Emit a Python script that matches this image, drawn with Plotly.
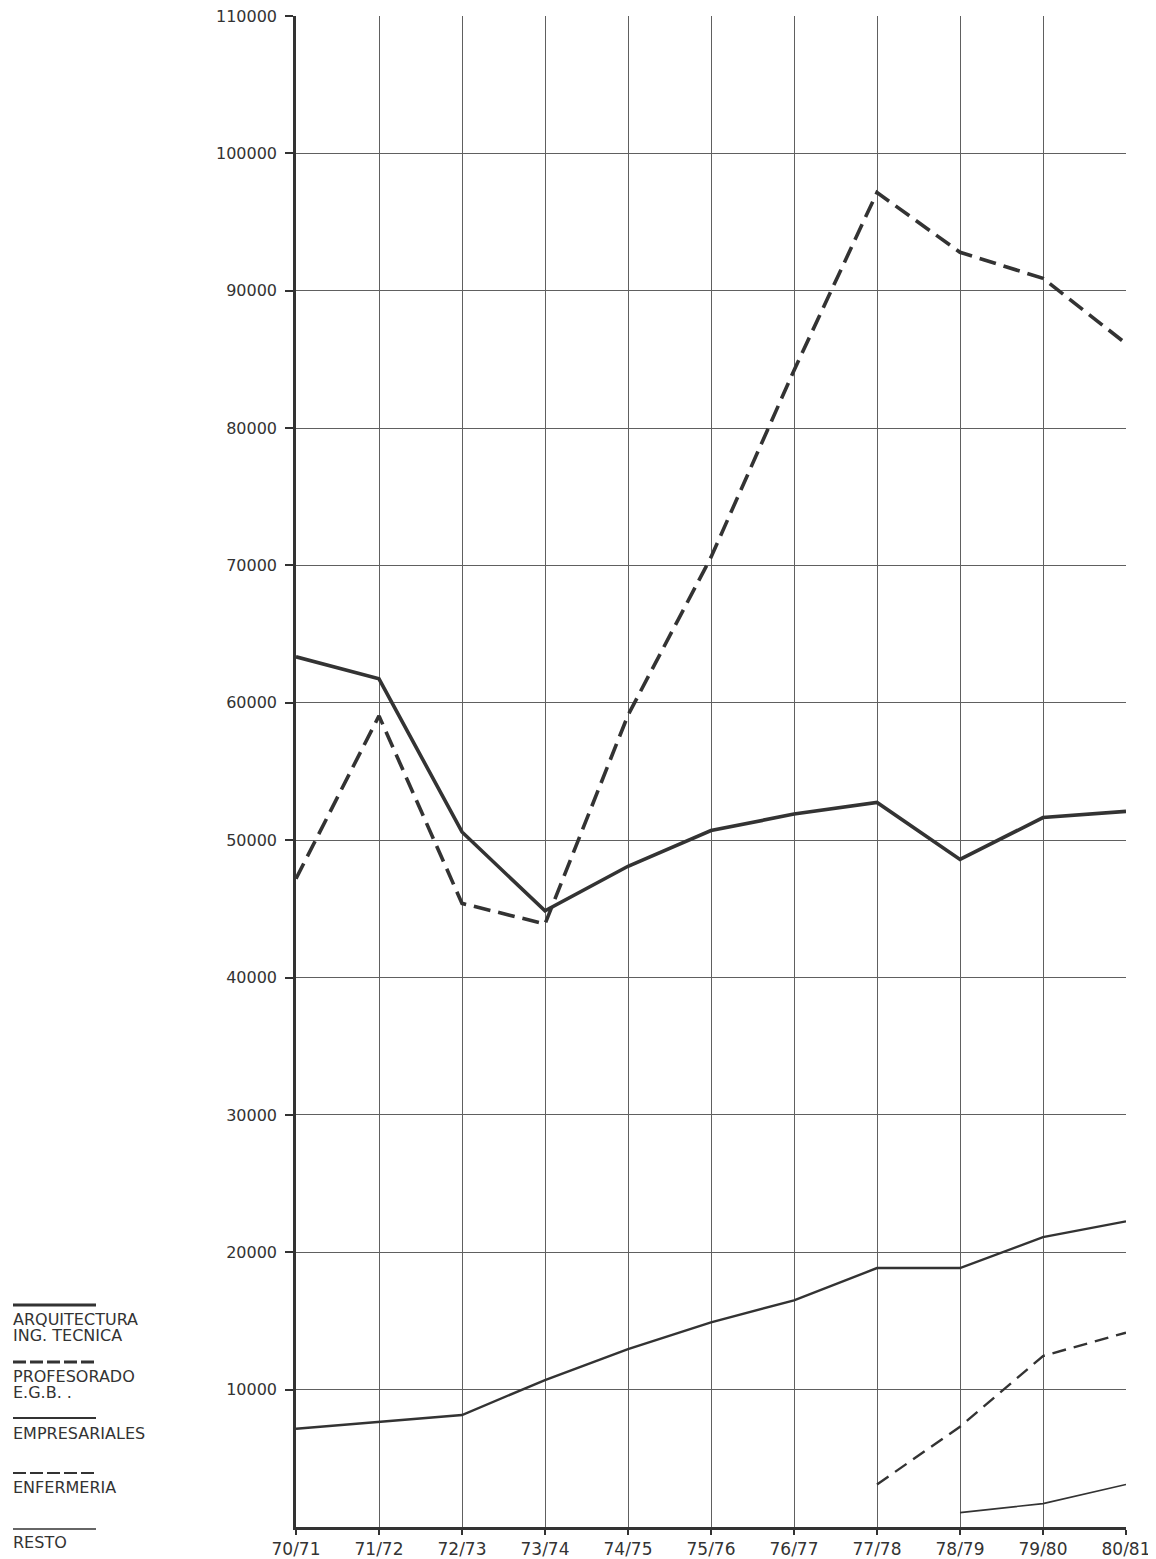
import plotly.graph_objects as go

# ---------------- data ----------------
courses = ["70/71", "71/72", "72/73", "73/74", "74/75", "75/76",
           "76/77", "77/78", "78/79", "79/80", "80/81"]

arquitectura = [63350, 61750, 50600, 44850, 48100, 50700, 51900, 52750, 48600, 51650, 52100]
profesorado = [47200, 59050, 45400, 43900, 59100, 70600, 84200, 97150, 92800, 90900, 86150]
empresariales = [7150, 7650, 8150, 10700, 12950, 14900, 16500, 18850, 18850, 21100, 22250]
enfermeria_courses = ["77/78", "78/79", "79/80", "80/81"]
enfermeria = [3100, 7300, 12450, 14150]
resto_courses = ["78/79", "79/80", "80/81"]
resto = [1050, 1700, 3100]

y_ticks = [10000, 20000, 30000, 40000, 50000, 60000, 70000, 80000, 90000, 100000, 110000]

legend_items = [
    ("ARQUITECTURA<br>ING. TECNICA", "solid", 3.0),
    ("PROFESORADO<br>E.G.B. .", "dash", 3.0),
    ("EMPRESARIALES", "solid", 2.0),
    ("ENFERMERIA", "dash", 2.0),
    ("RESTO", "solid", 1.6),
]

# ---------------- layout constants ----------------
OFF = 8                      # page body margin
W, H = 1156 - OFF, 1559 - OFF
# target plot box in screen pixels: x 296..1126, y 16..1527
L = 296 - OFF
T = 16 - OFF
R = W - (1126 - OFF)
B = H - (1527 - OFF)
PW, PH = W - L - R, H - T - B
INK = "#333333"
FONT = "DejaVu Sans"


def px_x(x):
    return (x - OFF - L) / PW


def px_y(y):
    return (T + PH - (y - OFF)) / PH


fig = go.Figure()

fig.add_trace(go.Scatter(x=courses, y=arquitectura, mode="lines",
                         line=dict(color=INK, width=3.6), name="ARQUITECTURA ING. TECNICA"))
fig.add_trace(go.Scatter(x=courses, y=profesorado, mode="lines",
                         line=dict(color=INK, width=3.6, dash="17px,8px"), name="PROFESORADO E.G.B."))
fig.add_trace(go.Scatter(x=courses, y=empresariales, mode="lines",
                         line=dict(color=INK, width=2.4), name="EMPRESARIALES"))
fig.add_trace(go.Scatter(x=enfermeria_courses, y=enfermeria, mode="lines",
                         line=dict(color=INK, width=2.4, dash="14px,8px"), name="ENFERMERIA"))
fig.add_trace(go.Scatter(x=resto_courses, y=resto, mode="lines",
                         line=dict(color=INK, width=1.6), name="RESTO"))

# custom legend (line above label), left of plot
legend_rows = [(1305, (1319, 1335)), (1362, (1376, 1392)), (1418, (1433,)),
               (1473, (1487,)), (1529, (1543,))]
for (label, dash, w), (ly, tys) in zip(legend_items, legend_rows):
    fig.add_shape(type="line", xref="paper", yref="paper",
                  x0=px_x(13), x1=px_x(96), y0=px_y(ly), y1=px_y(ly),
                  line=dict(color=INK, width=w,
                            dash="13px,4px" if dash == "dash" else "solid"))
    for line_text, ty in zip(label.split("<br>"), tys):
        fig.add_annotation(xref="paper", yref="paper", x=px_x(11), y=px_y(ty),
                           text=line_text, showarrow=False, xanchor="left", yanchor="middle",
                           align="left", font=dict(family=FONT, size=16, color=INK))

fig.update_layout(
    width=W, height=H,
    margin=dict(l=L, r=R, t=T, b=B, autoexpand=False),
    paper_bgcolor="white", plot_bgcolor="white",
    showlegend=False,
    font=dict(family=FONT, color=INK),
)

fig.update_xaxes(
    type="category", categoryorder="array", categoryarray=courses,
    range=[0, len(courses) - 1],
    automargin=False, ticklabeloverflow="allow",
    showgrid=True, gridcolor="#606060", gridwidth=1,
    showline=True, linecolor=INK, linewidth=2.5,
    ticks="outside", ticklen=5, tickcolor=INK, tickwidth=1.5,
    tickfont=dict(family=FONT, size=17, color=INK),
    zeroline=False,
)
fig.update_yaxes(
    range=[0, 110000],
    automargin=False, ticklabeloverflow="allow",
    tickmode="array", tickvals=y_ticks, ticktext=[str(v) for v in y_ticks],
    showgrid=True, gridcolor="#606060", gridwidth=1,
    showline=True, linecolor=INK, linewidth=2.5,
    ticks="outside", ticklen=8, tickcolor=INK, tickwidth=1.5,
    tickfont=dict(family=FONT, size=16, color=INK),
    ticklabelstandoff=5,
    zeroline=False,
)

fig.write_html("out.html")
